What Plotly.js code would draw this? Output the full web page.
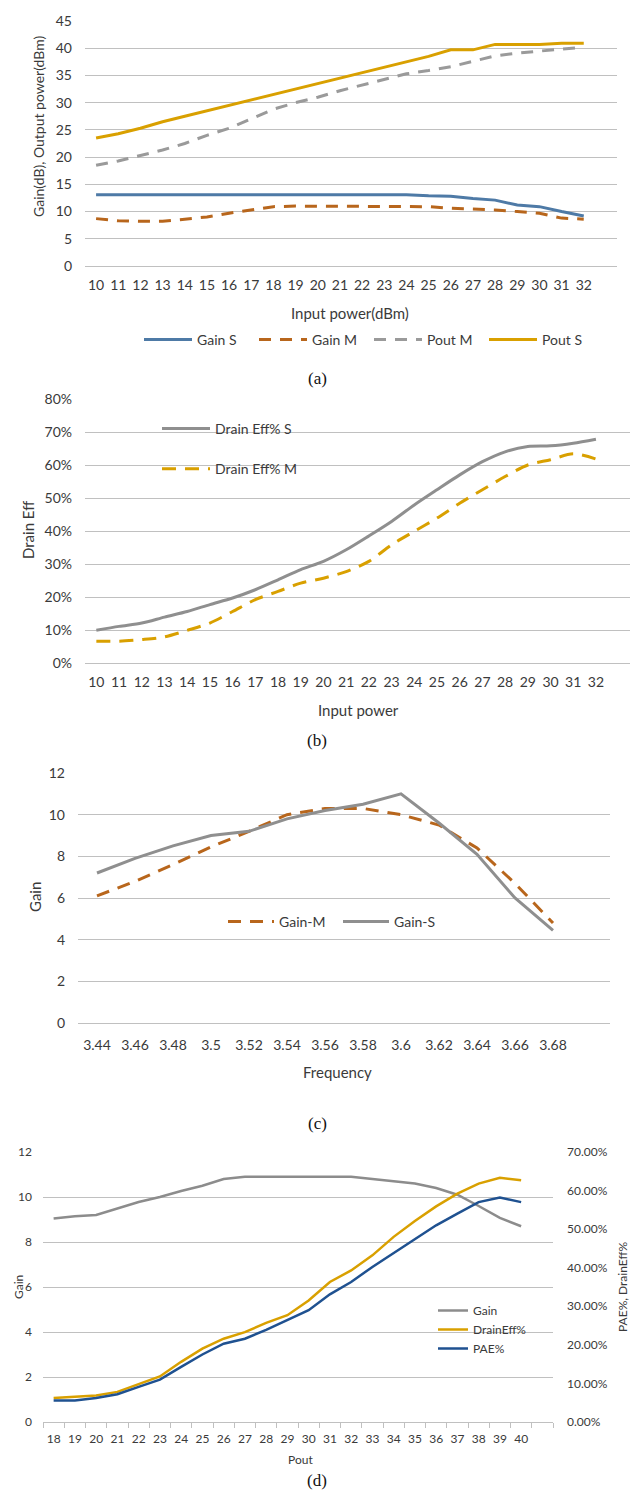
<!DOCTYPE html>
<html>
<head>
<meta charset="utf-8">
<script src="https://cdn.plot.ly/plotly-3.0.1.min.js"></script>
<style>html,body{margin:0;padding:0;background:#fff;}#chart{width:635px;height:1492px;}</style>
</head>
<body>
<div id="chart"></div>
<script>
// ---------- data ----------
// (a)
const inputPowerA = [10,11,12,13,14,15,16,17,18,19,20,21,22,23,24,25,26,27,28,29,30,31,32];
const gainS_A = [13.1,13.1,13.1,13.1,13.1,13.1,13.1,13.1,13.1,13.1,13.1,13.1,13.1,13.1,13.1,12.9,12.8,12.4,12.1,11.2,10.9,10.0,9.2];
const gainM_A = [8.7,8.3,8.2,8.2,8.6,9.0,9.7,10.3,10.9,11.0,11.0,11.0,11.0,11.0,11.0,10.9,10.6,10.5,10.3,10.0,9.7,8.8,8.6];
const poutM_A = [18.5,19.3,20.3,21.3,22.5,24.0,25.3,27.0,28.8,30.0,31.0,32.2,33.2,34.2,35.3,35.9,36.6,37.6,38.6,39.1,39.5,39.9,40.2];
const poutS_A = [23.5,24.3,25.3,26.5,27.5,28.5,29.5,30.5,31.5,32.5,33.5,34.5,35.5,36.5,37.5,38.5,39.7,39.7,40.7,40.7,40.7,40.9,40.9];
// (b)
const inputPowerB = [10,11,12,13,14,15,16,17,18,19,20,21,22,23,24,25,26,27,28,29,30,31,32];
const drainEffS_B = [9.9,11.1,12.1,13.9,15.6,17.7,19.7,22.2,25.2,28.3,30.8,34.3,38.5,42.9,47.9,52.5,57.0,61.0,64.0,65.6,65.8,66.6,67.8];
const drainEffM_B = [6.6,6.6,7.1,7.9,9.9,12.1,15.6,19.2,21.7,24.2,25.7,27.7,30.8,35.8,39.9,43.9,48.4,52.5,56.5,60.0,61.6,63.4,61.8];
// (c)
const freqC = ['3.44','3.46','3.48','3.5','3.52','3.54','3.56','3.58','3.6','3.62','3.64','3.66','3.68'];
const gainM_C = [6.1,6.8,7.6,8.45,9.2,10.0,10.3,10.3,10.0,9.5,8.4,6.7,4.8];
const gainS_C = [7.2,7.9,8.5,9.0,9.2,9.8,10.2,10.5,11.0,9.6,8.1,6.0,4.45];
// (d)
const poutD = [18,19,20,21,22,23,24,25,26,27,28,29,30,31,32,33,34,35,36,37,38,39,40];
const gainD = [9.04,9.14,9.2,9.5,9.78,10.0,10.27,10.5,10.8,10.9,10.9,10.9,10.9,10.9,10.9,10.8,10.7,10.6,10.4,10.1,9.6,9.07,8.7];
const drainEffD = [6.2,6.5,6.9,7.8,9.9,11.8,15.6,19.0,21.6,23.3,25.7,27.7,31.5,36.3,39.3,43.2,48.0,52.1,55.9,59.2,61.8,63.3,62.7];
const paeD = [5.6,5.6,6.2,7.2,9.1,11.0,14.3,17.5,20.3,21.6,23.9,26.4,29.0,33.1,36.3,40.2,43.8,47.5,51.0,54.0,57.0,58.2,57.0];

// ---------- layout helpers ----------
const W = 635, H = 1492;
const fx = p => p / W;
const fy = p => 1 - p / H;

const FONT = 'Lato, "Open Sans", sans-serif';
const TXT = '#3a3a3a';
const GRID = '#c0c0c0';
const SERIF = '"Liberation Serif", "Times New Roman", serif';

const C_BLUE = '#4e7aa6', C_BROWN = '#b8661c', C_GRAY = '#9a9a9a', C_GOLD = '#d9a000';
const C_GRAY_D = '#8c8c8c', C_GOLD_D = '#d9a000', C_NAVY = '#1f5190';

const traces = [
  // (a)
  {x: inputPowerA, y: gainS_A, name: 'Gain S', mode: 'lines', line: {color: C_BLUE, width: 3}, xaxis: 'x', yaxis: 'y', legend: 'legend'},
  {x: inputPowerA, y: gainM_A, name: 'Gain M', mode: 'lines', line: {color: C_BROWN, width: 3, dash: '12px,9px'}, xaxis: 'x', yaxis: 'y', legend: 'legend'},
  {x: inputPowerA, y: poutM_A, name: 'Pout M', mode: 'lines', line: {color: C_GRAY, width: 3, dash: '12px,9px'}, xaxis: 'x', yaxis: 'y', legend: 'legend'},
  {x: inputPowerA, y: poutS_A, name: 'Pout S', mode: 'lines', line: {color: C_GOLD, width: 3}, xaxis: 'x', yaxis: 'y', legend: 'legend'},
  // (b)
  {x: inputPowerB, y: drainEffS_B, name: 'Drain Eff% S', mode: 'lines', line: {color: '#8f8f8f', width: 3, shape: 'spline', smoothing: 0.8}, xaxis: 'x2', yaxis: 'y2', legend: 'legend2', legendgroup: 'bS'},
  {x: inputPowerB, y: drainEffM_B, name: 'Drain Eff% M', mode: 'lines', line: {color: C_GOLD, width: 3, dash: '14px,9px', shape: 'spline', smoothing: 0.8}, xaxis: 'x2', yaxis: 'y2', legend: 'legend2', legendgroup: 'bM'},
  // (c)
  {x: freqC, y: gainM_C, name: 'Gain-M', mode: 'lines', line: {color: C_BROWN, width: 3, dash: '13px,9px'}, xaxis: 'x3', yaxis: 'y3', legend: 'legend3'},
  {x: freqC, y: gainS_C, name: 'Gain-S', mode: 'lines', line: {color: '#8f8f8f', width: 3}, xaxis: 'x3', yaxis: 'y3', legend: 'legend3'},
  // (d)
  {x: poutD, y: gainD, name: 'Gain', mode: 'lines', line: {color: C_GRAY_D, width: 2.5}, xaxis: 'x4', yaxis: 'y4', legend: 'legend4'},
  {x: poutD, y: drainEffD, name: 'DrainEff%', mode: 'lines', line: {color: C_GOLD_D, width: 2.5}, xaxis: 'x4', yaxis: 'y5', legend: 'legend4'},
  {x: poutD, y: paeD, name: 'PAE%', mode: 'lines', line: {color: C_NAVY, width: 2.5}, xaxis: 'x4', yaxis: 'y5', legend: 'legend4'}
];

function xAx(d0, d1, range, tickvals, size, extra) {
  return Object.assign({
    domain: [fx(d0), fx(d1)], range: range, tickvals: tickvals,
    showgrid: false, zeroline: false, showline: false, ticks: '',
    tickfont: {family: FONT, size: size, color: TXT}, ticklabelstandoff: 9, fixedrange: true
  }, extra || {});
}
function yAx(top, bottom, range, dtick, size, extra) {
  return Object.assign({
    domain: [fy(bottom), fy(top)], range: range, dtick: dtick, tick0: 0,
    showgrid: true, gridcolor: GRID, gridwidth: 1,
    zeroline: true, zerolinecolor: GRID, zerolinewidth: 1, showline: false, ticks: '',
    tickfont: {family: FONT, size: size, color: TXT}, ticklabelstandoff: 12, fixedrange: true
  }, extra || {});
}

const ann = (text, x, y, size, opts) => Object.assign({
  text: text, x: fx(x), y: fy(y), xref: 'paper', yref: 'paper', showarrow: false,
  xanchor: 'center', yanchor: 'middle', font: {family: FONT, size: size, color: TXT}
}, opts || {});

const legendBase = {font: {family: FONT, size: 14, color: TXT}, bgcolor: 'rgba(0,0,0,0)', borderwidth: 0};

const layout = {
  width: W, height: H, margin: {l: 0, r: 0, t: 0, b: 0},
  paper_bgcolor: '#fff', plot_bgcolor: '#fff', showlegend: true,
  font: {family: FONT, color: TXT},
  xaxis: xAx(85, 617, [9.5, 33.5], inputPowerA, 14, {anchor: 'y'}),
  yaxis: yAx(21, 266, [0, 45], 5, 14, {anchor: 'x'}),
  xaxis2: xAx(85, 630, [9.5, 33.5], inputPowerB, 14, {anchor: 'y2'}),
  yaxis2: yAx(399, 663, [0, 80], 10, 14, {anchor: 'x2', ticksuffix: '%'}),
  xaxis3: xAx(78, 610, [-0.5, 13.5], null, 14, {anchor: 'y3', type: 'category', tickvals: undefined, ticklabelstandoff: 12}),
  yaxis3: yAx(773, 1023, [0, 12], 2, 14, {anchor: 'x3'}),
  xaxis4: xAx(43, 553, [17.5, 41.5], poutD, 12, {anchor: 'y4', showline: true, linecolor: GRID, linewidth: 1, ticklabelstandoff: 6,
    minor: {tickmode: 'linear', tick0: 17.5, dtick: 1, ticks: 'outside', ticklen: 5, tickcolor: GRID, tickwidth: 1, showgrid: false}}),
  yaxis4: yAx(1152, 1422, [0, 12], 2, 12, {anchor: 'x4', ticklabelstandoff: 10}),
  yaxis5: {overlaying: 'y4', side: 'right', anchor: 'x4', range: [0, 70], dtick: 10, tick0: 0,
    tickformat: '.2f', ticksuffix: '%', showgrid: false, zeroline: false, showline: false, ticks: '',
    tickfont: {family: FONT, size: 12, color: TXT}, ticklabelstandoff: 13, fixedrange: true},
  legend: Object.assign({}, legendBase, {orientation: 'h', x: fx(139), xanchor: 'left', y: fy(340), yanchor: 'middle', itemwidth: 48, entrywidth: 52, entrywidthmode: 'pixels'}),
  legend2: Object.assign({}, legendBase, {orientation: 'v', x: fx(157), xanchor: 'left', y: fy(413), yanchor: 'top', itemwidth: 48, traceorder: 'grouped', tracegroupgap: 19}),
  legend3: Object.assign({}, legendBase, {orientation: 'h', x: fx(223), xanchor: 'left', y: fy(922), yanchor: 'middle', itemwidth: 46, entrywidth: 54, entrywidthmode: 'pixels'}),
  legend4: Object.assign({}, legendBase, {font: {family: FONT, size: 12, color: TXT}, orientation: 'v', x: fx(433), xanchor: 'left', y: fy(1296), yanchor: 'top'}),
  annotations: [
    ann('Gain(dB), Output power(dBm)', 38, 127, 14, {textangle: -90}),
    ann('Input power(dBm)', 350, 313, 15),
    ann('(a)', 317, 378, 17, {font: {family: SERIF, size: 17, color: '#111'}}),
    ann('Drain Eff', 28, 530, 15, {textangle: -90}),
    ann('Input power', 358, 710, 15),
    ann('(b)', 317, 741, 17, {font: {family: SERIF, size: 17, color: '#111'}}),
    ann('Gain', 35, 897, 15, {textangle: -90}),
    ann('Frequency', 337, 1072, 15),
    ann('(c)', 317, 1123, 17, {font: {family: SERIF, size: 17, color: '#111'}}),
    ann('Gain', 18, 1287, 12, {textangle: -90}),
    ann('PAE%, DrainEff%', 622, 1287, 12, {textangle: -90}),
    ann('Pout', 300, 1459, 12),
    ann('(d)', 317, 1480, 17, {font: {family: SERIF, size: 17, color: '#111'}})
  ]
};

Plotly.newPlot('chart', traces, layout, {displayModeBar: false, staticPlot: true});
</script>
</body>
</html>
